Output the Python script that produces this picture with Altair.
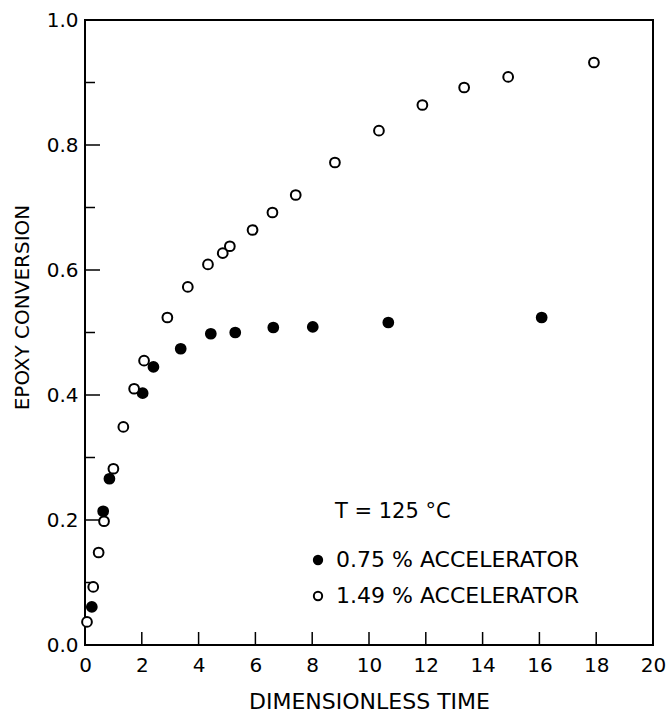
import altair as alt
import pandas as pd

# 1.49 % accelerator (open circles)
open_x = [0.07, 0.29, 0.48, 0.67, 1.0, 1.35, 1.73, 2.08, 2.9, 3.62, 4.33, 4.85, 5.1,
          5.9, 6.6, 7.42, 8.8, 10.35, 11.88, 13.35, 14.9, 17.92]
open_y = [0.037, 0.093, 0.148, 0.198, 0.282, 0.349, 0.41, 0.455, 0.524, 0.573, 0.609,
          0.627, 0.638, 0.664, 0.692, 0.72, 0.772, 0.823, 0.864, 0.892, 0.909, 0.932]
# 0.75 % accelerator (filled circles)
filled_x = [0.24, 0.64, 0.86, 2.03, 2.41, 3.37, 4.43, 5.29, 6.63, 8.02, 10.68, 16.08]
filled_y = [0.061, 0.214, 0.266, 0.403, 0.445, 0.474, 0.498, 0.5, 0.508, 0.509, 0.516, 0.524]

series_names = ["0.75 % ACCELERATOR", "1.49 % ACCELERATOR"]
x_ticks = [2, 4, 6, 8, 10, 12, 14, 16, 18]
y_major = [0.2, 0.4, 0.6, 0.8]
y_minor = [0.1, 0.3, 0.5, 0.7, 0.9]
note_text = ["T = 125 °C"]
note_x = [8.8]
note_y = [0.213]

FONT = "DejaVu Sans"

df = pd.concat([
    pd.DataFrame({"t": filled_x, "c": filled_y, "s": series_names[0]}),
    pd.DataFrame({"t": open_x, "c": open_y, "s": series_names[1]}),
])

xs = alt.Scale(domain=[0, 20], nice=False, zero=True)
ys = alt.Scale(domain=[0, 1], nice=False, zero=True)

points = alt.Chart(df).mark_point(
    shape="circle", filled=True, stroke="black", strokeWidth=2, size=95, opacity=1
).encode(
    x=alt.X("t:Q", scale=xs, axis=alt.Axis(
        title="DIMENSIONLESS TIME", values=list(range(0, 21, 2)), ticks=False,
        domain=False, grid=False, labelPadding=10, titlePadding=16, titleFontSize=22,
        labelFlush=False)),
    y=alt.Y("c:Q", scale=ys, axis=alt.Axis(
        title="EPOXY CONVERSION", values=[0, 0.2, 0.4, 0.6, 0.8, 1.0], format=".1f",
        ticks=False, domain=False, grid=False, labelPadding=7, titlePadding=14,
        titleY=287, labelFlush=False)),
    fill=alt.Fill("s:N", scale=alt.Scale(domain=series_names, range=["black", "white"]),
                  legend=alt.Legend(
                      title=None, orient="none", legendX=222, legendY=529,
                      symbolType="circle", symbolSize=70, symbolStrokeColor="black",
                      symbolStrokeWidth=2, labelFont=FONT, labelFontSize=22,
                      labelColor="black", labelOffset=7, rowPadding=14, labelLimit=0)),
)

xt = alt.Chart(pd.DataFrame({"v": x_ticks})).mark_rule(color="black", strokeWidth=1.5).encode(
    x=alt.X("v:Q", scale=xs), y=alt.value(625), y2=alt.value(612))
ymaj = alt.Chart(pd.DataFrame({"v": y_major})).mark_rule(color="black", strokeWidth=1.5).encode(
    y=alt.Y("v:Q", scale=ys), x=alt.value(0), x2=alt.value(15))
ymin = alt.Chart(pd.DataFrame({"v": y_minor})).mark_rule(color="black", strokeWidth=1.5).encode(
    y=alt.Y("v:Q", scale=ys), x=alt.value(0), x2=alt.value(10))

note = alt.Chart(pd.DataFrame({"x": note_x, "y": note_y, "txt": note_text})).mark_text(
    align="left", baseline="middle", font=FONT, fontSize=21, color="black"
).encode(x=alt.X("x:Q", scale=xs), y=alt.Y("y:Q", scale=ys), text="txt:N")

chart = alt.layer(xt, ymaj, ymin, points, note).properties(
    width=568, height=625,
    background="white",
    autosize=alt.AutoSizeParams(type="none"),
    padding={"left": 85, "top": 20, "right": 14, "bottom": 68},
).configure_view(
    stroke="black", strokeWidth=2
).configure_axis(
    labelFont=FONT, titleFont=FONT, labelFontSize=20, titleFontSize=20,
    labelColor="black", titleColor="black", titleFontWeight="normal"
)

chart.save("out.html", embed_options={"renderer": "svg", "actions": False})
